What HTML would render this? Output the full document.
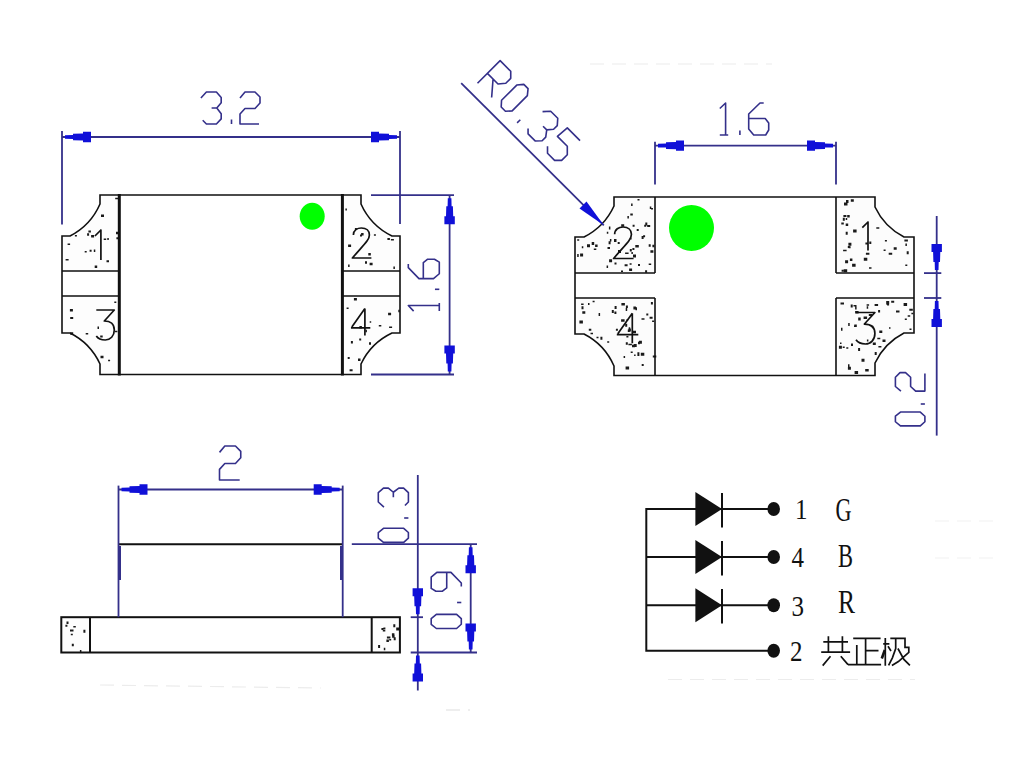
<!DOCTYPE html><html><head><meta charset="utf-8"><style>html,body{margin:0;padding:0;background:#fff;overflow:hidden}svg{display:block}</style></head><body>
<svg width="1017" height="771" viewBox="0 0 1017 771">
<rect width="1017" height="771" fill="#fff"/>
<g stroke="#ececec" stroke-width="1.2" stroke-dasharray="14,8">
<line x1="590" y1="64" x2="772" y2="64"/>
<line x1="100" y1="685" x2="321" y2="688"/>
<line x1="446" y1="710" x2="470" y2="710" stroke="#eeeeee" stroke-width="2"/>
<line x1="668" y1="679.5" x2="915" y2="679.5"/>
<line x1="935" y1="521" x2="1000" y2="521" stroke="#f2f2f2"/>
<line x1="935" y1="558" x2="1000" y2="558" stroke="#f2f2f2"/>
</g>
<g fill="#fdfdfd" stroke="none">
<path d="M100,195 L119,195 L119,271 L62,271 L62,236 L70,236 A65,65 0 0 0 100,204 Z"/>
<path d="M62,296 L119,296 L119,374.5 L100,374.5 L100,364 A65,65 0 0 0 70,333 L62,333 Z"/>
<path d="M342,195 L361,195 L361,204 A65,65 0 0 0 392,236 L400,236 L400,271 L342,271 Z"/>
<path d="M342,296 L400,296 L400,333 L392,333 A65,65 0 0 0 361,364 L361,374.5 L342,374.5 Z"/>
</g>
<path d="M93.8,249.6h1.5v2.5h-1.5zM388.1,312.7h3v2.5h-3zM115.2,197.7h3v1.5h-3zM85.7,332.9h2.5v1.5h-2.5zM348.1,264.6h1.5v2.5h-1.5zM393.4,266.5h1.5v2.5h-1.5zM361.1,232.9h2.5v2.5h-2.5zM354.9,227.9h2v2h-2zM369.0,342.2h2v2.5h-2zM387.4,237.9h2.5v2h-2.5zM87.1,233.2h2v2.5h-2zM67.6,243.5h2.5v1.5h-2.5zM106.5,260.2h2.5v2h-2.5zM369.7,321.2h1.5v1.5h-1.5zM84.7,251.0h2v1.5h-2zM353.9,298.1h3v2.5h-3zM359.4,326.1h2.5v2.5h-2.5zM100.2,335.4h2.5v2h-2.5zM365.0,261.2h2v2.5h-2zM346.6,307.5h2v1.5h-2zM101.0,214.6h3v2.5h-3zM88.4,230.6h2.5v2h-2.5zM369.6,262.8h3v2.5h-3zM359.2,338.4h2v2h-2zM103.7,238.6h2.5v1.5h-2.5zM91.1,234.9h3v2.5h-3zM347.7,357.1h2v2h-2zM349.6,369.3h3v2h-3zM97.5,326.6h1.5v2.5h-1.5zM69.9,308.9h3v2.5h-3zM116.0,231.8h3v2.5h-3zM108.1,359.7h2v1.5h-2zM373.9,234.3h2v1.5h-2zM107.3,238.1h1.5v2h-1.5zM70.2,332.2h3v2.5h-3zM94.7,265.4h2.5v2.5h-2.5zM358.0,358.6h2.5v2.5h-2.5zM65.6,259.0h3v1.5h-3zM398.3,309.8h1.5v2.5h-1.5zM114.9,330.8h2.5v1.5h-2.5zM365.4,329.7h1.5v2.5h-1.5zM390.9,238.9h3v1.5h-3zM378.8,325.1h2.5v1.5h-2.5zM100.5,355.7h3v2.5h-3zM348.1,244.5h3v2.5h-3zM74.9,235.1h2v1.5h-2zM116.4,237.3h2v2h-2zM345.4,208.4h1.5v2h-1.5zM89.6,249.7h2v2h-2zM360.0,234.4h2v2h-2zM368.3,253.0h2.5v2.5h-2.5zM389.1,326.4h3v1.5h-3zM70.2,316.9h3v2h-3zM114.3,301.4h2v1.5h-2zM350.9,341.1h2v2.5h-2z" fill="#1a1a1a"/>
<g fill="none" stroke="#111" stroke-width="1.6">
<path d="M119,195 L100,195 L100,204 A65,65 0 0 1 70,236 L62,236 L62,333 L70,333 A65,65 0 0 1 100,364 L100,374.5 L119,374.5"/>
<path d="M62,271 L119,271 M62,296 L119,296"/>
<path d="M342,195 L361,195 L361,204 A65,65 0 0 0 392,236 L400,236 L400,333 L392,333 A65,65 0 0 0 361,364 L361,374.5 L342,374.5"/>
<path d="M342,271 L400,271 M342,296 L400,296"/>
<path d="M119,195 L342,195 M119,374.5 L342,374.5"/>
</g>
<line x1="119.3" y1="194" x2="119.3" y2="375.5" stroke="#111" stroke-width="3"/>
<line x1="342.4" y1="194" x2="342.4" y2="375.5" stroke="#111" stroke-width="3"/>
<ellipse cx="312.2" cy="216.3" rx="12.5" ry="13.5" fill="#00ff00"/>
<path transform="translate(100.90,230.00)" d="M-6,6 L0,0 L0,30" fill="none" stroke="#111" stroke-width="1.7" vector-effect="non-scaling-stroke" stroke-linejoin="round"/>
<path transform="translate(96.30,310.00)" d="M0,0 L18,0 L8,11 C14,11 18,14 18,20 C18,26 14,30 9,30 C5,30 2,29 0,26" fill="none" stroke="#111" stroke-width="1.7" vector-effect="non-scaling-stroke" stroke-linejoin="round"/>
<path transform="translate(352.40,228.00)" d="M1,7 C1,2 5,0 9,0 C14,0 17,3 17,7 C17,12 12,16 0,30 L19,30" fill="none" stroke="#111" stroke-width="1.7" vector-effect="non-scaling-stroke" stroke-linejoin="round"/>
<path transform="translate(351.40,308.60) scale(0.9000)" d="M15,0 L0.5,20.5 M-0.5,21.5 L21,21.5 M15,0 L15,30" fill="none" stroke="#111" stroke-width="1.7" vector-effect="non-scaling-stroke" stroke-linejoin="round"/>
<line x1="62" y1="131" x2="62" y2="224.5" stroke="#34308a" stroke-width="1.8"/>
<line x1="400" y1="131" x2="400" y2="224" stroke="#34308a" stroke-width="1.8"/>
<line x1="62" y1="137" x2="400" y2="137" stroke="#34308a" stroke-width="1.8"/>
<polygon points="65.0,138.8 73.0,139.0 73.0,140.3 83.0,140.6 83.0,142.2 91.0,142.2 91.0,131.8 83.0,131.8 83.0,133.4 73.0,133.7 73.0,135.0 65.0,135.2" fill="#1010d8"/>
<polygon points="397.0,135.2 389.0,135.0 389.0,133.7 379.0,133.4 379.0,131.8 371.0,131.8 371.0,142.2 379.0,142.2 379.0,140.6 389.0,140.3 389.0,139.0 397.0,138.8" fill="#1010d8"/>
<path transform="translate(200.90,92.00)" d="M0,6 L5.5,0 L15.5,0 L20.3,5.5 L20.3,10.7 L15.9,16 L10.7,16 M15.9,16 L20.3,21.8 L20.3,26.9 L15.5,32 L5.5,32 L1.8,28.3" fill="none" stroke="#34308a" stroke-width="1.6" vector-effect="non-scaling-stroke" stroke-linejoin="round"/>
<path transform="translate(231.50,92.00)" d="M0,27.5 L0,32" fill="none" stroke="#34308a" stroke-width="1.6" vector-effect="non-scaling-stroke" stroke-linejoin="round"/>
<path transform="translate(240.00,92.00)" d="M0,6 L5,0 L15,0 L20,5 L20,11 L15,16.5 L5,16.5 L0,22 L0,32 L19,32" fill="none" stroke="#34308a" stroke-width="1.6" vector-effect="non-scaling-stroke" stroke-linejoin="round"/>
<line x1="371" y1="195.2" x2="454" y2="195.2" stroke="#34308a" stroke-width="1.8"/>
<line x1="371" y1="374.5" x2="454" y2="374.5" stroke="#34308a" stroke-width="1.8"/>
<line x1="449.6" y1="195" x2="449.6" y2="374.5" stroke="#34308a" stroke-width="1.8"/>
<polygon points="447.8,198.2 447.6,206.2 446.3,206.2 446.0,216.2 444.4,216.2 444.4,224.2 454.8,224.2 454.8,216.2 453.2,216.2 452.9,206.2 451.6,206.2 451.4,198.2" fill="#1010d8"/>
<polygon points="451.4,371.5 451.6,363.5 452.9,363.5 453.2,353.5 454.8,353.5 454.8,345.5 444.4,345.5 444.4,353.5 446.0,353.5 446.3,363.5 447.6,363.5 447.8,371.5" fill="#1010d8"/>
<path transform="translate(408.30,278.60) rotate(-90) scale(0.9688)" d="M15,0 L11.3,0 L0,11 L0,26 L5,32 L17,32 L20,27 L20,20 L16.5,15.5 L0,15.5" fill="none" stroke="#34308a" stroke-width="1.6" vector-effect="non-scaling-stroke" stroke-linejoin="round"/>
<path transform="translate(408.30,311.10) rotate(-90) scale(0.9688)" d="M0,5.5 L5.8,0 L5.8,32 M0,32 L8.4,32" fill="none" stroke="#34308a" stroke-width="1.6" vector-effect="non-scaling-stroke" stroke-linejoin="round"/>
<path transform="translate(408.30,289.30) rotate(-90) scale(0.9688)" d="M0,27.5 L0,32" fill="none" stroke="#34308a" stroke-width="1.6" vector-effect="non-scaling-stroke" stroke-linejoin="round"/>
<g fill="#fcfcfc" stroke="none">
<path d="M614,197 L655,197 L655,273 L575,273 L575,237 L584,237 A65,65 0 0 0 614,206 Z"/>
<path d="M575,298 L655,298 L655,375.5 L614,375.5 L614,366 A65,65 0 0 0 584,334 L575,334 Z"/>
<path d="M836,197 L875,197 L875,207 A65,65 0 0 0 904,237 L914,237 L914,273 L836,273 Z"/>
<path d="M836,298 L914,298 L914,333 L904,333 A65,65 0 0 0 875,363 L875,375.5 L836,375.5 Z"/>
</g>
<path d="M840.5,302.5h3.5v2h-3.5zM636.7,229.0h2v2h-2zM893.7,247.2h3v2.5h-3zM625.7,307.9h1.5v3h-1.5zM886.5,303.1h2.5v2h-2.5zM630.1,237.4h1.5v2h-1.5zM847.9,366.8h3v3h-3zM905.3,264.5h2v1.5h-2zM641.7,364.1h2v2h-2zM608.9,226.5h1.5v3h-1.5zM879.3,330.5h3v2.5h-3zM866.7,306.2h1.5v2.5h-1.5zM611.8,310.0h2v3h-2zM841.3,222.4h2.5v2h-2.5zM844.0,202.4h3.5v3h-3.5zM847.8,246.0h2v2h-2zM648.7,244.2h2v2.5h-2zM848.6,246.3h2v2h-2zM909.3,308.8h3.5v2h-3.5zM621.1,319.3h3.5v2.5h-3.5zM853.5,304.9h3v1.5h-3zM888.7,252.8h3.5v2h-3.5zM646.3,313.5h2v2h-2zM588.8,328.7h2.5v2h-2.5zM633.7,344.1h3v3h-3zM907.7,315.3h2.5v1.5h-2.5zM871.3,325.7h2v1.5h-2zM845.7,218.0h1.5v2h-1.5zM843.1,249.8h3.5v1.5h-3.5zM649.6,316.7h3v2h-3zM596.5,336.7h2v1.5h-2zM587.0,244.3h3v3h-3zM911.4,312.8h2v1.5h-2zM590.5,332.7h2.5v1.5h-2.5zM845.1,260.3h3v3h-3zM631.4,252.0h1.5v2h-1.5zM628.4,343.8h3.5v1.5h-3.5zM846.3,347.2h2v1.5h-2zM854.0,325.6h2v1.5h-2zM608.6,241.3h2v3h-2zM588.0,303.1h1.5v2h-1.5zM843.7,269.3h3.5v3h-3.5zM634.1,354.5h1.5v1.5h-1.5zM863.6,316.6h3.5v2.5h-3.5zM896.0,310.4h3.5v2h-3.5zM635.3,245.1h3.5v2.5h-3.5zM877.3,337.8h3v1.5h-3zM581.5,306.3h2v3h-2zM878.4,346.0h3v1.5h-3zM643.1,235.3h2v2h-2zM637.4,352.3h2v2h-2zM841.0,327.7h1.5v3h-1.5zM652.8,355.5h3.5v2h-3.5zM845.7,231.7h2v3h-2zM848.4,242.8h3v3h-3zM633.4,306.6h2.5v3h-2.5zM842.8,217.7h2v3h-2zM615.9,328.8h2v2h-2zM651.0,207.9h2v1.5h-2zM606.8,231.7h1.5v2h-1.5zM633.0,254.4h3v3h-3zM858.1,348.0h2v3h-2zM855.1,311.0h3.5v2.5h-3.5zM891.2,300.8h3v2h-3zM607.2,341.2h2v1.5h-2zM644.2,224.7h2v2h-2zM852.1,263.7h3.5v3h-3.5zM628.7,327.2h1.5v1.5h-1.5zM886.2,301.0h3v3h-3zM638.9,340.8h3v3h-3zM609.1,259.3h3v3h-3zM865.2,369.1h3.5v2.5h-3.5zM631.1,203.5h1.5v2.5h-1.5zM606.6,265.5h1.5v2.5h-1.5zM614.5,262.4h2v2h-2zM853.1,229.4h3.5v3h-3.5zM640.8,352.7h3.5v3h-3.5zM869.0,267.2h2.5v1.5h-2.5zM637.4,353.0h2v3h-2zM849.9,258.5h2.5v2.5h-2.5zM848.2,322.9h1.5v3h-1.5zM582.3,311.3h3v2.5h-3zM614.0,239.1h2.5v3h-2.5zM652.1,320.5h2v1.5h-2zM842.7,346.6h2v1.5h-2zM868.8,314.1h3.5v2h-3.5zM649.8,206.6h1.5v2.5h-1.5zM645.3,222.4h2v3h-2zM847.2,215.0h2.5v2.5h-2.5zM878.1,310.1h2v2.5h-2zM904.8,318.5h2v1.5h-2zM577.2,253.9h1.5v3h-1.5zM904.4,239.4h3.5v2h-3.5zM625.9,305.5h2v2.5h-2zM874.6,303.9h3.5v2h-3.5zM621.0,270.4h2v1.5h-2zM841.6,269.8h2v2h-2zM581.8,246.3h1.5v2h-1.5zM866.6,304.2h2.5v1.5h-2.5zM623.6,356.1h1.5v2h-1.5zM874.7,351.9h2v3h-2zM905.4,243.6h1.5v2.5h-1.5zM580.1,253.5h3v3h-3zM630.3,213.6h2.5v2h-2.5zM632.4,247.9h2v2h-2zM861.5,358.7h3v3h-3zM607.5,247.1h2.5v2h-2.5zM630.7,351.5h2v1.5h-2zM627.8,329.6h2v2.5h-2zM593.8,248.5h2.5v1.5h-2.5zM883.6,249.5h2v1.5h-2zM629.8,248.9h2v2.5h-2zM863.8,257.8h3.5v3h-3.5zM647.2,224.9h3v2h-3zM625.1,252.6h3.5v1.5h-3.5zM624.6,264.3h3v2h-3zM628.4,328.4h2.5v3h-2.5zM840.0,342.5h1.5v1.5h-1.5zM872.8,342.4h3v2.5h-3zM618.0,250.0h3v3h-3zM626.4,336.0h2v1.5h-2zM641.5,318.2h3v1.5h-3zM882.5,339.6h3v2.5h-3zM633.0,330.8h3v2.5h-3zM845.7,223.5h2.5v2.5h-2.5zM854.3,324.6h2.5v2.5h-2.5zM884.9,240.0h2v1.5h-2zM609.9,239.0h1.5v2.5h-1.5zM595.1,244.6h2.5v2.5h-2.5zM629.1,268.4h3v2.5h-3zM838.9,345.8h3v3h-3zM641.6,236.1h2v3h-2zM854.6,371.1h3.5v3h-3.5zM869.3,241.6h2v2.5h-2zM625.2,323.7h2v3h-2zM621.4,303.1h3.5v2.5h-3.5zM621.2,224.3h3v2.5h-3zM650.4,250.2h3v2.5h-3zM648.7,263.5h2.5v1.5h-2.5zM627.4,216.1h1.5v2.5h-1.5zM579.4,320.5h3.5v3h-3.5zM866.9,339.4h1.5v2h-1.5zM851.0,343.6h2v2.5h-2zM591.7,242.1h2.5v3h-2.5zM887.1,302.6h2v3h-2zM865.9,252.7h3.5v2h-3.5zM625.8,342.2h2v2.5h-2zM652.4,244.8h2v2.5h-2zM650.9,302.0h2v2.5h-2zM614.4,311.4h2v2.5h-2zM625.6,366.6h3.5v3h-3.5zM855.1,306.5h1.5v3h-1.5zM858.2,317.6h2.5v3h-2.5zM632.0,344.7h3v2.5h-3zM865.4,242.6h2.5v2h-2.5zM889.0,327.3h1.5v1.5h-1.5zM850.8,199.3h3v2.5h-3zM637.5,199.0h2v1.5h-2zM850.7,304.5h2v3h-2zM592.6,300.8h2v1.5h-2zM617.7,242.0h2v2h-2zM626.6,319.1h1.5v2h-1.5zM906.7,251.3h2v3h-2zM629.6,263.3h2v1.5h-2zM645.1,270.3h2v2.5h-2zM876.3,227.2h3v1.5h-3zM632.6,224.8h2v2h-2zM843.4,215.0h3v2h-3zM614.6,305.9h2v3h-2zM638.0,264.0h2v2h-2zM577.2,239.3h2v1.5h-2zM846.0,200.1h2.5v3h-2.5zM581.1,303.6h2.5v1.5h-2.5zM638.0,341.8h2v2.5h-2zM600.4,336.8h2v3h-2zM903.6,303.0h3.5v3h-3.5zM598.6,313.0h1.5v3h-1.5zM909.5,328.4h2v1.5h-2zM635.5,307.2h1.5v3h-1.5zM848.0,364.3h1.5v3h-1.5z" fill="#1a1a1a"/>
<g fill="none" stroke="#111" stroke-width="1.6">
<path d="M655,273 L575,273 L575,237 L584,237 A65,65 0 0 0 614,206 L614,197 L836,197 L875,197 L875,207 A65,65 0 0 0 904,237 L914,237 L914,333 L904,333 A65,65 0 0 0 875,363 L875,375.5 L614,375.5 L614,366 A65,65 0 0 0 584,334 L575,334 L575,237"/>
<path d="M655,197 L655,273 M655,298 L655,375.5 M836,197 L836,273 M836,298 L836,375.5"/>
<path d="M575,298 L655,298 M836,298 L914,298 M836,273 L914,273"/>
</g>
<ellipse cx="691.5" cy="228" rx="22.5" ry="23" fill="#00ff00"/>
<path transform="translate(613.60,227.00) scale(1.0500)" d="M1,7 C1,2 5,0 9,0 C14,0 17,3 17,7 C17,12 12,16 0,30 L19,30" fill="none" stroke="#111" stroke-width="1.7" vector-effect="non-scaling-stroke" stroke-linejoin="round"/>
<path transform="translate(617.30,313.20)" d="M15,0 L0.5,20.5 M-0.5,21.5 L21,21.5 M15,0 L15,30" fill="none" stroke="#111" stroke-width="1.7" vector-effect="non-scaling-stroke" stroke-linejoin="round"/>
<path transform="translate(868.00,222.00) scale(0.9500)" d="M-6,6 L0,0 L0,30" fill="none" stroke="#111" stroke-width="1.7" vector-effect="non-scaling-stroke" stroke-linejoin="round"/>
<path transform="translate(856.00,312.50) scale(1.0500)" d="M0,0 L18,0 L8,11 C14,11 18,14 18,20 C18,26 14,30 9,30 C5,30 2,29 0,26" fill="none" stroke="#111" stroke-width="1.7" vector-effect="non-scaling-stroke" stroke-linejoin="round"/>
<line x1="655" y1="141.8" x2="655" y2="184.5" stroke="#34308a" stroke-width="1.8"/>
<line x1="836" y1="141.8" x2="836" y2="184.5" stroke="#34308a" stroke-width="1.8"/>
<line x1="655" y1="145.6" x2="836" y2="145.6" stroke="#34308a" stroke-width="1.8"/>
<polygon points="658.0,147.4 666.0,147.6 666.0,148.9 676.0,149.2 676.0,150.8 684.0,150.8 684.0,140.4 676.0,140.4 676.0,142.0 666.0,142.3 666.0,143.6 658.0,143.8" fill="#1010d8"/>
<polygon points="833.0,143.8 825.0,143.6 825.0,142.3 815.0,142.0 815.0,140.4 807.0,140.4 807.0,150.8 815.0,150.8 815.0,149.2 825.0,148.9 825.0,147.6 833.0,147.4" fill="#1010d8"/>
<path transform="translate(719.80,103.00)" d="M0,5.5 L5.8,0 L5.8,32 M0,32 L8.4,32" fill="none" stroke="#34308a" stroke-width="1.6" vector-effect="non-scaling-stroke" stroke-linejoin="round"/>
<path transform="translate(739.90,103.00)" d="M0,27.5 L0,32" fill="none" stroke="#34308a" stroke-width="1.6" vector-effect="non-scaling-stroke" stroke-linejoin="round"/>
<path transform="translate(748.70,103.00)" d="M15,0 L11.3,0 L0,11 L0,26 L5,32 L17,32 L20,27 L20,20 L16.5,15.5 L0,15.5" fill="none" stroke="#34308a" stroke-width="1.6" vector-effect="non-scaling-stroke" stroke-linejoin="round"/>
<line x1="461.2" y1="83.1" x2="603.8" y2="225.3" stroke="#34308a" stroke-width="1.8"/>
<polygon points="603.8,225.3 579.5,208.5 586.5,201.5" fill="#1010d8"/>
<path transform="translate(500.13,60.67) rotate(45)" d="M0,32 L0,0 L15,0 L20,5 L20,12 L15,18 L0,18 M8,18 L20,32" fill="none" stroke="#34308a" stroke-width="1.6" vector-effect="non-scaling-stroke" stroke-linejoin="round"/>
<path transform="translate(520.64,81.18) rotate(45)" d="M4.5,0 L10.5,0 L15,5.5 L15,27 L10.5,32 L4.5,32 L0,27 L0,5.5 Z" fill="none" stroke="#34308a" stroke-width="1.6" vector-effect="non-scaling-stroke" stroke-linejoin="round"/>
<path transform="translate(539.73,100.27) rotate(45)" d="M0,27.5 L0,32" fill="none" stroke="#34308a" stroke-width="1.6" vector-effect="non-scaling-stroke" stroke-linejoin="round"/>
<path transform="translate(546.80,107.34) rotate(45)" d="M0,6 L5.5,0 L15.5,0 L20.3,5.5 L20.3,10.7 L15.9,16 L10.7,16 M15.9,16 L20.3,21.8 L20.3,26.9 L15.5,32 L5.5,32 L1.8,28.3" fill="none" stroke="#34308a" stroke-width="1.6" vector-effect="non-scaling-stroke" stroke-linejoin="round"/>
<path transform="translate(566.60,127.14) rotate(45)" d="M19,0 L1,0 L0,13 L14,13 L20,19 L20,27 L15,32 L5,32 L0,27" fill="none" stroke="#34308a" stroke-width="1.6" vector-effect="non-scaling-stroke" stroke-linejoin="round"/>
<line x1="936.7" y1="216" x2="936.7" y2="435.6" stroke="#34308a" stroke-width="1.8"/>
<line x1="924" y1="273.1" x2="941.3" y2="273.1" stroke="#34308a" stroke-width="1.8"/>
<line x1="924" y1="298" x2="941.3" y2="298" stroke="#34308a" stroke-width="1.8"/>
<polygon points="938.5,270.1 938.7,262.1 940.0,262.1 940.3,252.1 941.9,252.1 941.9,244.1 931.5,244.1 931.5,252.1 933.1,252.1 933.4,262.1 934.7,262.1 934.9,270.1" fill="#1010d8"/>
<polygon points="934.9,301.0 934.7,309.0 933.4,309.0 933.1,319.0 931.5,319.0 931.5,327.0 941.9,327.0 941.9,319.0 940.3,319.0 940.0,309.0 938.7,309.0 938.5,301.0" fill="#1010d8"/>
<path transform="translate(895.40,425.90) rotate(-90) scale(0.9219)" d="M4.5,0 L10.5,0 L15,5.5 L15,27 L10.5,32 L4.5,32 L0,27 L0,5.5 Z" fill="none" stroke="#34308a" stroke-width="1.6" vector-effect="non-scaling-stroke" stroke-linejoin="round"/>
<path transform="translate(895.40,404.00) rotate(-90) scale(0.9219)" d="M0,27.5 L0,32" fill="none" stroke="#34308a" stroke-width="1.6" vector-effect="non-scaling-stroke" stroke-linejoin="round"/>
<path transform="translate(895.40,391.10) rotate(-90) scale(0.9219)" d="M0,6 L5,0 L15,0 L20,5 L20,11 L15,16.5 L5,16.5 L0,22 L0,32 L19,32" fill="none" stroke="#34308a" stroke-width="1.6" vector-effect="non-scaling-stroke" stroke-linejoin="round"/>
<rect x="61.3" y="617.2" width="28.7" height="35.3" fill="#fdfdfd"/>
<rect x="371.7" y="617.2" width="28.2" height="35.3" fill="#fdfdfd"/>
<path d="M70.8,633.8h2v1.5h-2zM65.4,624.8h2v2h-2zM386.9,636.4h3.5v2h-3.5zM83.4,629.8h2v3h-2zM382.8,629.9h2.5v1.5h-2.5zM71.8,643.7h2v2.5h-2zM79.9,650.0h1.5v3h-1.5zM393.7,637.3h2v3h-2zM391.9,633.3h2.5v2.5h-2.5zM386.4,639.6h2.5v2.5h-2.5zM393.3,624.2h2v3h-2zM383.8,647.8h1.5v2.5h-1.5zM387.9,636.8h2v1.5h-2zM383.4,627.6h2v2h-2zM389.2,638.9h2v1.5h-2zM392.1,634.8h2.5v3h-2.5zM381.4,628.1h2v2h-2zM378.1,645.1h2v3h-2zM396.2,627.6h3v3h-3zM66.5,621.5h2v2.5h-2zM70.0,629.6h3.5v2h-3.5zM73.3,626.1h2.5v1.5h-2.5z" fill="#1a1a1a"/>
<g fill="none" stroke="#111" stroke-width="2">
<rect x="61.3" y="617.2" width="338.6" height="35.3"/>
<path d="M90,617.2 L90,652.5 M371.7,617.2 L371.7,652.5 M118.5,544.2 L342.7,544.2"/>
</g>
<line x1="118.5" y1="485.6" x2="118.5" y2="617.2" stroke="#34308a" stroke-width="1.8"/>
<line x1="342.7" y1="485.6" x2="342.7" y2="617.2" stroke="#34308a" stroke-width="1.8"/>
<line x1="119.5" y1="546" x2="119.5" y2="580" stroke="#34308a" stroke-width="3"/>
<line x1="341.5" y1="546" x2="341.5" y2="580" stroke="#34308a" stroke-width="3"/>
<line x1="118.5" y1="489.5" x2="342.7" y2="489.5" stroke="#34308a" stroke-width="1.8"/>
<polygon points="121.5,491.3 129.5,491.5 129.5,492.8 139.5,493.1 139.5,494.7 147.5,494.7 147.5,484.3 139.5,484.3 139.5,485.9 129.5,486.2 129.5,487.5 121.5,487.7" fill="#1010d8"/>
<polygon points="339.7,487.7 331.7,487.5 331.7,486.2 321.7,485.9 321.7,484.3 313.7,484.3 313.7,494.7 321.7,494.7 321.7,493.1 331.7,492.8 331.7,491.5 339.7,491.3" fill="#1010d8"/>
<path transform="translate(219.50,446.00) scale(1.0625)" d="M0,6 L5,0 L15,0 L20,5 L20,11 L15,16.5 L5,16.5 L0,22 L0,32 L19,32" fill="none" stroke="#34308a" stroke-width="1.6" vector-effect="non-scaling-stroke" stroke-linejoin="round"/>
<line x1="351.8" y1="544.2" x2="477" y2="544.2" stroke="#34308a" stroke-width="1.8"/>
<line x1="410.7" y1="617.2" x2="423" y2="617.2" stroke="#34308a" stroke-width="1.8"/>
<line x1="410.7" y1="652.5" x2="477" y2="652.5" stroke="#34308a" stroke-width="1.8"/>
<line x1="417.8" y1="475" x2="417.8" y2="690.5" stroke="#34308a" stroke-width="1.8"/>
<polygon points="419.6,614.2 419.8,606.2 421.1,606.2 421.4,596.2 423.0,596.2 423.0,588.2 412.6,588.2 412.6,596.2 414.2,596.2 414.5,606.2 415.8,606.2 416.0,614.2" fill="#1010d8"/>
<polygon points="416.0,655.5 415.8,663.5 414.5,663.5 414.2,673.5 412.6,673.5 412.6,681.5 423.0,681.5 423.0,673.5 421.4,673.5 421.1,663.5 419.8,663.5 419.6,655.5" fill="#1010d8"/>
<line x1="470.7" y1="544.2" x2="470.7" y2="652.5" stroke="#34308a" stroke-width="1.8"/>
<polygon points="468.9,547.2 468.7,555.2 467.4,555.2 467.1,565.2 465.5,565.2 465.5,573.2 475.9,573.2 475.9,565.2 474.3,565.2 474.0,555.2 472.7,555.2 472.5,547.2" fill="#1010d8"/>
<polygon points="472.5,649.5 472.7,641.5 474.0,641.5 474.3,631.5 475.9,631.5 475.9,623.5 465.5,623.5 465.5,631.5 467.1,631.5 467.4,641.5 468.7,641.5 468.9,649.5" fill="#1010d8"/>
<path transform="translate(378.30,542.40) rotate(-90) scale(0.9406)" d="M4.5,0 L10.5,0 L15,5.5 L15,27 L10.5,32 L4.5,32 L0,27 L0,5.5 Z" fill="none" stroke="#34308a" stroke-width="1.6" vector-effect="non-scaling-stroke" stroke-linejoin="round"/>
<path transform="translate(378.30,518.00) rotate(-90) scale(0.9406)" d="M0,27.5 L0,32" fill="none" stroke="#34308a" stroke-width="1.6" vector-effect="non-scaling-stroke" stroke-linejoin="round"/>
<path transform="translate(378.30,507.20) rotate(-90) scale(0.9406)" d="M0,6 L5.5,0 L15.5,0 L20.3,5.5 L20.3,10.7 L15.9,16 L10.7,16 M15.9,16 L20.3,21.8 L20.3,26.9 L15.5,32 L5.5,32 L1.8,28.3" fill="none" stroke="#34308a" stroke-width="1.6" vector-effect="non-scaling-stroke" stroke-linejoin="round"/>
<path transform="translate(431.20,628.50) rotate(-90) scale(0.9406)" d="M4.5,0 L10.5,0 L15,5.5 L15,27 L10.5,32 L4.5,32 L0,27 L0,5.5 Z" fill="none" stroke="#34308a" stroke-width="1.6" vector-effect="non-scaling-stroke" stroke-linejoin="round"/>
<path transform="translate(431.20,602.50) rotate(-90) scale(0.9406)" d="M0,27.5 L0,32" fill="none" stroke="#34308a" stroke-width="1.6" vector-effect="non-scaling-stroke" stroke-linejoin="round"/>
<path transform="translate(431.20,591.20) rotate(-90) scale(0.9406)" d="M5,32 L8.7,32 L20,21 L20,6 L15,0 L3,0 L0,5 L0,12 L3.5,16.5 L20,16.5" fill="none" stroke="#34308a" stroke-width="1.6" vector-effect="non-scaling-stroke" stroke-linejoin="round"/>
<g fill="none" stroke="#111" stroke-width="2">
<path d="M774,509 L646.3,509 L646.3,650.7 L774,650.7 M646.3,557 L774,557 M646.3,605.2 L774,605.2"/>
<path d="M722,493 L722,527.5 M722,541 L722,575.5 M722,589 L722,623.5"/>
</g>
<polygon points="695.4,492.0 722.0,509.0 695.4,526.0" fill="#111"/>
<polygon points="695.4,540.0 722.0,557.0 695.4,574.0" fill="#111"/>
<polygon points="695.4,588.2 722.0,605.2 695.4,622.2" fill="#111"/>
<ellipse cx="773.7" cy="509" rx="6.3" ry="7" fill="#111"/>
<ellipse cx="773.7" cy="557" rx="6.3" ry="7" fill="#111"/>
<ellipse cx="773.7" cy="605.2" rx="6.3" ry="7" fill="#111"/>
<ellipse cx="773.7" cy="650.7" rx="6.3" ry="7" fill="#111"/>
<g font-family="Liberation Serif, serif" fill="#111">
<text x="795" y="519" font-size="29" textLength="12.5" lengthAdjust="spacingAndGlyphs">1</text>
<text x="791.5" y="567" font-size="29" textLength="12.5" lengthAdjust="spacingAndGlyphs">4</text>
<text x="791.5" y="616" font-size="29" textLength="12.5" lengthAdjust="spacingAndGlyphs">3</text>
<text x="790" y="660.5" font-size="29" textLength="12.5" lengthAdjust="spacingAndGlyphs">2</text>
<text x="835.5" y="520.5" font-size="34" textLength="16" lengthAdjust="spacingAndGlyphs">G</text>
<text x="838" y="567" font-size="34" textLength="15" lengthAdjust="spacingAndGlyphs">B</text>
<text x="838" y="613" font-size="34" textLength="17" lengthAdjust="spacingAndGlyphs">R</text>
</g>
<g fill="none" stroke="#111" stroke-width="1.7" stroke-linecap="butt" stroke-linejoin="miter">
<path d="M828.4,636.2 L828.4,652.2 M842.4,636.2 L842.4,652.2 M823.3,641.9 L848,641.9 M821.2,652.2 L850.1,652.2 M830.5,656.3 L822.7,665.6 M840.8,656.3 L848,664.6"/>
<path d="M853.2,638.3 L880.6,638.3 M865.6,638.3 L865.6,664.6 M865.6,650.6 L878.5,650.6 M856.8,645 L856.8,664.6 M848,664.6 L881.1,664.6"/>
<path d="M885.3,637.9 L885.3,665.7 M883.2,643.9 L889.4,643.9 M888,646.3 L891,651 M890.3,638.4 L905,638.4 L905,647.4 L908.8,647.4 L908.8,652.3 L898.4,661.6 L891.9,665.4 M895.7,638.4 L895.7,648.5 L892.4,657.8 L888.6,665.4 M897.9,648.5 L903.9,659.4 L909.9,665.4"/>
<path d="M884.8,650 L881.8,658.5" stroke-width="2.6"/>
</g>
</svg></body></html>
